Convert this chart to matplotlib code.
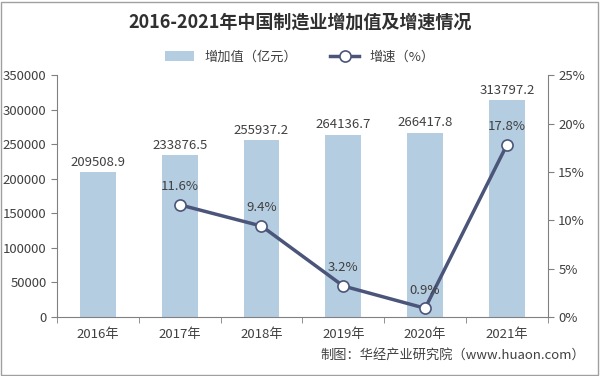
import matplotlib
matplotlib.use("Agg")
import matplotlib.pyplot as plt
from matplotlib.patches import Rectangle

plt.rcParams['font.family'] = ['Noto Sans CJK SC', 'DejaVu Sans']

years = ['2016年', '2017年', '2018年', '2019年', '2020年', '2021年']
values = [209508.9, 233876.5, 255937.2, 264136.7, 266417.8, 313797.2]
value_labels = ['209508.9', '233876.5', '255937.2', '264136.7', '266417.8', '313797.2']
growth_years_idx = [1, 2, 3, 4, 5]
growth = [11.6, 9.4, 3.2, 0.9, 17.8]
growth_labels = ['11.6%', '9.4%', '3.2%', '0.9%', '17.8%']

bar_color = '#b5cde1'
line_color = '#4b5579'
text_color = '#404040'

fig = plt.figure(figsize=(6, 3.76), dpi=100)
fig.patches.append(Rectangle((0.002, 0.003), 0.995, 0.993, transform=fig.transFigure,
                             fill=False, edgecolor='#a0a0a0', linewidth=1))
ax = fig.add_axes([0.095, 0.157, 0.818, 0.643])
x = list(range(len(years)))
ax.bar(x, values, width=0.44, color=bar_color, zorder=1, label='增加值（亿元）')
ax.set_xlim(-0.5, 5.5)
ax.set_ylim(0, 350000)
ax.set_yticks(range(0, 350001, 50000))
ax.set_yticklabels([str(v) for v in range(0, 350001, 50000)], fontsize=9.5, color=text_color)
ax.set_xticks(x)
ax.set_xticklabels(years, fontsize=9.5, color=text_color)
ax.tick_params(axis='x', length=0, pad=8)
ax.set_xticks([i + 0.5 for i in range(-1, 6)], minor=True)
ax.tick_params(axis='x', which='minor', length=4, color='#808080')
ax.tick_params(axis='y', length=4, color='#808080')
for s in ['top', 'right']:
    ax.spines[s].set_visible(False)
ax.spines['left'].set_color('#808080')
ax.spines['bottom'].set_color('#808080')
for xi, v, lab in zip(x, values, value_labels):
    ax.text(xi, v + 5000, lab, ha='center', va='bottom', fontsize=9.5, color=text_color)

ax2 = ax.twinx()
gx = [x[i] for i in growth_years_idx]
ax2.plot(gx, growth, color=line_color, linewidth=2.5, marker='o', markersize=8,
         markerfacecolor='white', markeredgecolor=line_color, markeredgewidth=1.2,
         zorder=3, label='增速（%）')
ax2.set_ylim(0, 25)
ax2.set_yticks(range(0, 26, 5))
ax2.set_yticklabels([f'{v}%' for v in range(0, 26, 5)], fontsize=9.5, color=text_color)
ax2.tick_params(axis='y', length=4, color='#808080')
for s in ['top', 'left', 'bottom']:
    ax2.spines[s].set_visible(False)
ax2.spines['right'].set_color('#808080')
for xi, g, lab in zip(gx, growth, growth_labels):
    ax2.text(xi, g + 1.2, lab, ha='center', va='bottom', fontsize=9.5, color=text_color)

fig.text(0.5, 0.94, '2016-2021年中国制造业增加值及增速情况', ha='center', va='center',
         fontsize=13, fontweight='bold', color='#303030')

h1, l1 = ax.get_legend_handles_labels()
h2, l2 = ax2.get_legend_handles_labels()
fig.legend(h1 + h2, l1 + l2, loc='center', bbox_to_anchor=(0.5, 0.848), ncol=2,
           frameon=False, fontsize=9.5, handlelength=2.2, columnspacing=2.5,
           labelcolor=text_color)

fig.text(0.975, 0.055, '制图：华经产业研究院（www.huaon.com）', ha='right', va='center',
         fontsize=9.5, color=text_color)

fig.savefig('out.png', dpi=100)
